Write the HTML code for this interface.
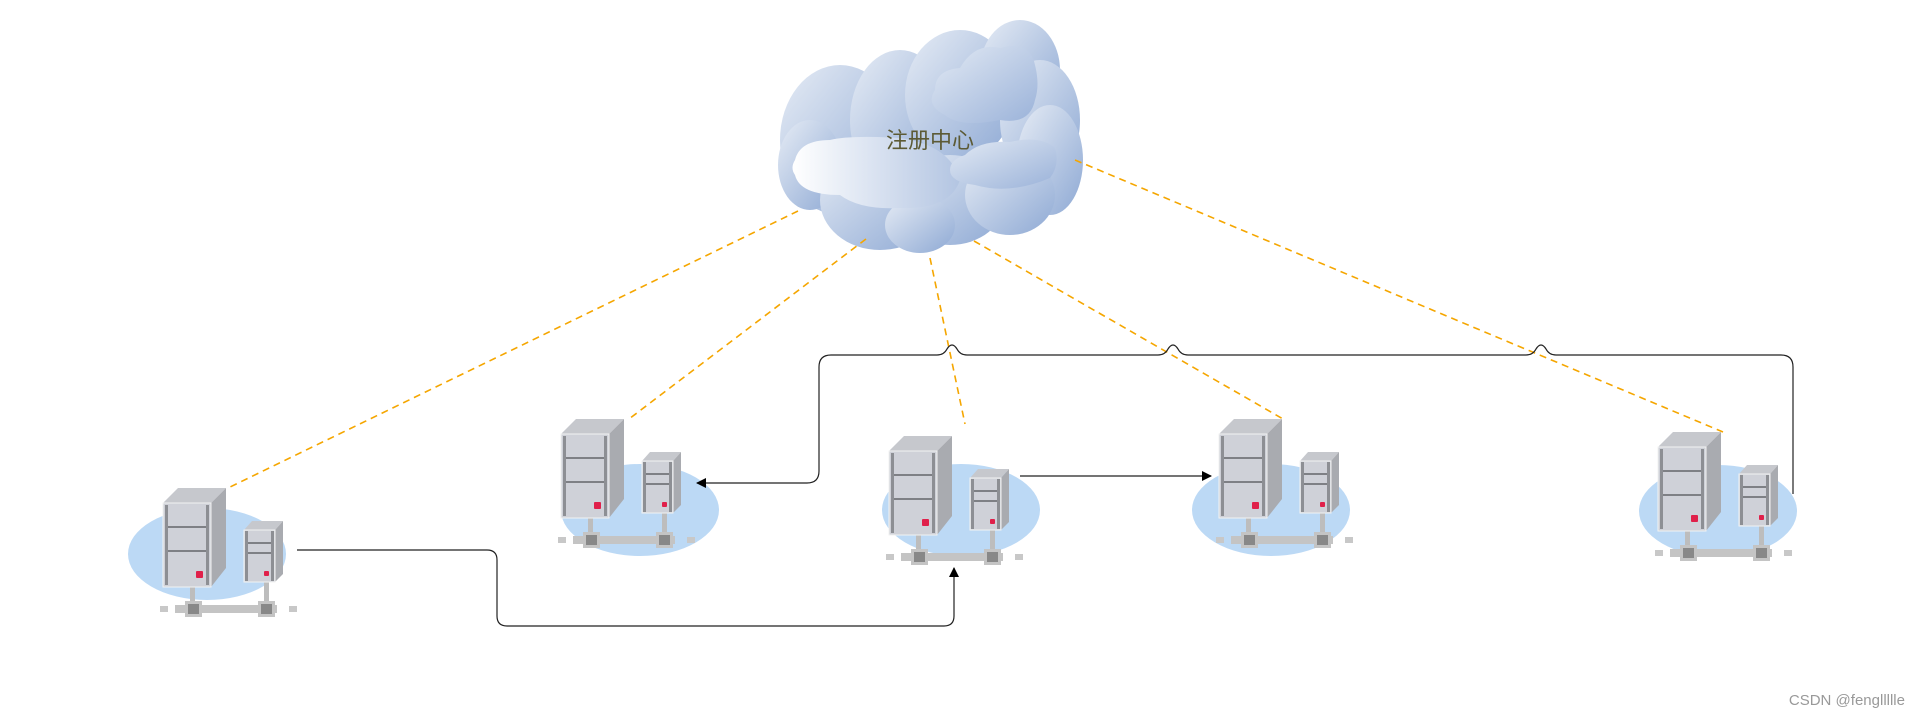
<!DOCTYPE html>
<html><head><meta charset="utf-8"><style>
html,body{margin:0;padding:0;background:#fff;width:1926px;height:720px;overflow:hidden}
svg{display:block}
</style></head><body>
<svg width="1926" height="720" viewBox="0 0 1926 720" xmlns="http://www.w3.org/2000/svg">
<defs>
<linearGradient id="cg" x1="0" y1="0" x2="1" y2="1">
<stop offset="0" stop-color="#e6ecf5"/><stop offset="1" stop-color="#8ea9d4"/></linearGradient>
<linearGradient id="cg2" x1="0" y1="0" x2="1" y2="0">
<stop offset="0" stop-color="#ffffff"/><stop offset="1" stop-color="#b3c5e2"/></linearGradient>
<linearGradient id="cg3" x1="0" y1="0" x2="1" y2="1">
<stop offset="0" stop-color="#e3eaf4"/><stop offset="1" stop-color="#9ab2d9"/></linearGradient>
<marker id="ar" markerWidth="10" markerHeight="10" refX="9" refY="5" orient="auto" markerUnits="userSpaceOnUse">
<path d="M0,0 L10,5 L0,10 z" fill="#000"/></marker>
<g id="srv">
<rect x="27" y="99" width="5" height="20" fill="#bdbdbd"/>
<rect x="101" y="94" width="5" height="25" fill="#bdbdbd"/>
<rect x="12" y="117" width="102" height="8" fill="#c4c4c4"/>
<rect x="-3" y="118" width="8" height="6" fill="#c8c8c8"/>
<rect x="126" y="118" width="8" height="6" fill="#c8c8c8"/>
<rect x="22" y="113" width="17" height="16" fill="#c4c4c4"/><rect x="25" y="116" width="11" height="10" fill="#888"/>
<rect x="95" y="113" width="17" height="16" fill="#c4c4c4"/><rect x="98" y="116" width="11" height="10" fill="#888"/>
<polygon points="0,15 15,0 63,0 48,15" fill="#c6c8cd"/>
<polygon points="48,15 63,0 63,80 48,99" fill="#a9abb0"/>
<rect x="0" y="15" width="48" height="84" fill="#cfd1d8" stroke="#f2f2f2" stroke-width="1"/>
<rect x="2" y="17" width="3" height="80" fill="#8d8f94"/><rect x="43" y="17" width="3" height="80" fill="#8d8f94"/>
<rect x="5" y="38" width="38" height="2" fill="#7e8085"/><rect x="5" y="62" width="38" height="2" fill="#7e8085"/>
<rect x="33" y="83" width="7" height="7" rx="1" fill="#e0204a"/>
<polygon points="81,42 89,33 120,33 112,42" fill="#c6c8cd"/>
<polygon points="112,42 120,33 120,86 112,94" fill="#a9abb0"/>
<rect x="81" y="42" width="31" height="52" fill="#cfd1d8" stroke="#f2f2f2" stroke-width="1"/>
<rect x="82" y="43" width="3" height="50" fill="#8d8f94"/><rect x="108" y="43" width="3" height="50" fill="#8d8f94"/>
<rect x="85" y="54" width="23" height="2" fill="#7e8085"/><rect x="85" y="64" width="23" height="2" fill="#7e8085"/>
<rect x="101" y="83" width="5" height="5" rx="1" fill="#e0204a"/>
</g>
</defs>
<!-- cloud -->
<g>
<g fill="url(#cg)">
<ellipse cx="840" cy="140" rx="60" ry="75"/>
<ellipse cx="900" cy="120" rx="50" ry="70"/>
<ellipse cx="960" cy="95" rx="55" ry="65"/>
<ellipse cx="1020" cy="70" rx="40" ry="50"/>
<ellipse cx="1040" cy="120" rx="40" ry="60"/>
<ellipse cx="1050" cy="160" rx="33" ry="55"/>
<ellipse cx="810" cy="165" rx="32" ry="45"/>
<ellipse cx="880" cy="200" rx="60" ry="50"/>
<ellipse cx="950" cy="200" rx="55" ry="45"/>
<ellipse cx="1010" cy="195" rx="45" ry="40"/>
<ellipse cx="920" cy="225" rx="35" ry="28"/>
</g>
<path d="M795,160 Q800,140 830,140 Q850,135 900,138 Q950,145 960,180 Q950,210 900,208 Q860,210 840,195 Q800,195 795,175 Q790,168 795,160 z" fill="url(#cg2)"/>
<path d="M935,90 Q935,70 960,68 Q975,42 1000,48 Q1030,40 1035,65 Q1040,85 1035,100 Q1030,125 1000,120 Q960,128 945,115 Q925,105 935,90 z" fill="url(#cg3)"/>
<path d="M950,170 Q950,160 965,155 Q980,140 1010,142 Q1040,135 1055,148 Q1060,165 1050,178 Q1010,195 975,185 Q950,182 950,170 z" fill="url(#cg3)"/>
<text x="930" y="148" font-family="'Liberation Sans','Noto Sans CJK SC',sans-serif" font-size="22" fill="#5c5a35" text-anchor="middle">注册中心</text>
</g>
<!-- dashed lines -->
<g stroke="#f5a600" stroke-width="1.6" stroke-dasharray="7,5" fill="none">
<line x1="798" y1="211" x2="228" y2="488"/>
<line x1="866" y1="239" x2="629" y2="419"/>
<line x1="930" y1="258" x2="965" y2="424"/>
<line x1="974" y1="241" x2="1283" y2="419"/>
<line x1="1075" y1="160" x2="1723" y2="432"/>
</g>
<!-- ellipses -->
<g fill="#bcd9f5">
<ellipse cx="207" cy="554" rx="79" ry="46"/>
<ellipse cx="640" cy="510" rx="79" ry="46"/>
<ellipse cx="961" cy="510" rx="79" ry="46"/>
<ellipse cx="1271" cy="510" rx="79" ry="46"/>
<ellipse cx="1718" cy="511" rx="79" ry="46"/>
</g>
<!-- servers -->
<use href="#srv" x="163" y="488"/>
<use href="#srv" x="561" y="419"/>
<use href="#srv" x="889" y="436"/>
<use href="#srv" x="1219" y="419"/>
<use href="#srv" x="1658" y="432"/>
<!-- connectors -->
<g stroke="#222" stroke-width="1.2" fill="none">
<path d="M297,550 L487,550 Q497,550 497,560 L497,616 Q497,626 507,626 L944,626 Q954,626 954,616 L954,568" marker-end="url(#ar)"/>
<path d="M1793,494 L1793,367 Q1793,355 1781,355 L1556,355 Q1549,355 1546,349 Q1541,341 1536,349 Q1533,355 1526,355 L1188,355 Q1181,355 1178,349 Q1173,341 1168,349 Q1165,355 1158,355 L967,355 Q960,355 957,349 Q952,341 947,349 Q944,355 937,355 L831,355 Q819,355 819,367 L819,471 Q819,483 807,483 L697,483" marker-end="url(#ar)"/>
<path d="M1020,476 L1211,476" marker-end="url(#ar)"/>
</g>
<text x="1905" y="705" font-family="'Liberation Sans',sans-serif" font-size="15" fill="#999" text-anchor="end">CSDN @fengllllle</text>
</svg>
</body></html>
